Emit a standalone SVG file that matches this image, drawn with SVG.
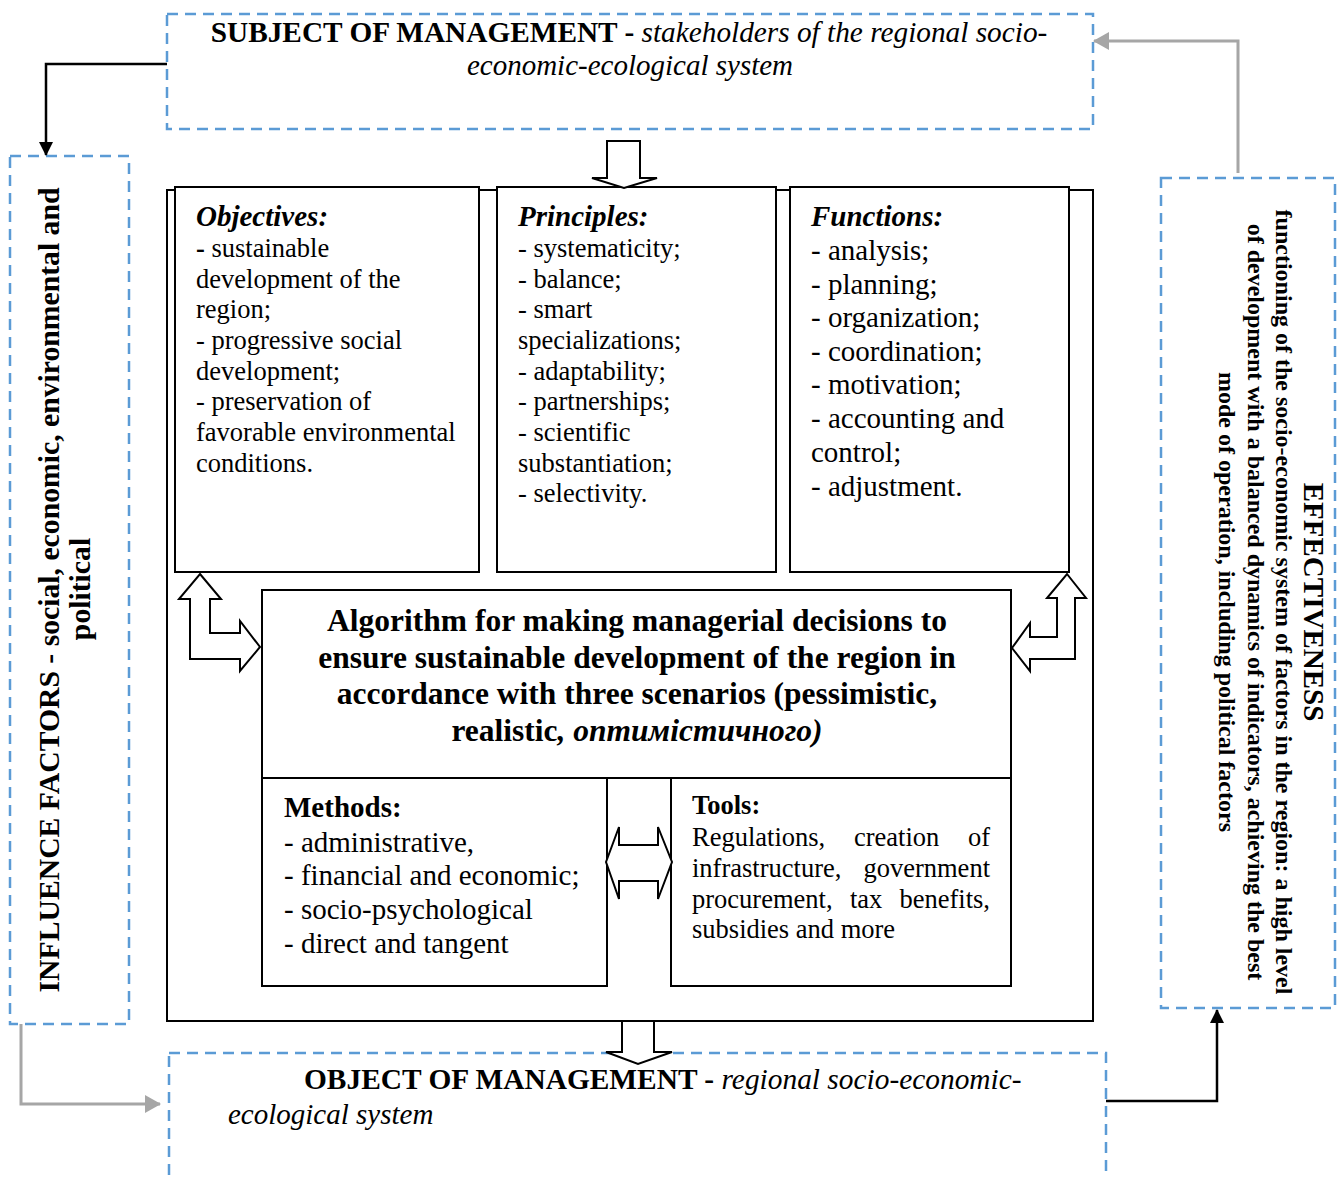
<svg xmlns="http://www.w3.org/2000/svg" width="1344" height="1177" viewBox="0 0 1344 1177">
<style>
text{font-family:"Liberation Serif","Times New Roman",serif;fill:#000}
.dash{fill:none;stroke:#5b9bd5;stroke-width:2.5;stroke-dasharray:11 7}
.box{fill:#fff;stroke:#000;stroke-width:2}
.blk{fill:#fff;stroke:#000;stroke-width:2;stroke-linejoin:miter}
.b{font-weight:bold}
.i{font-style:italic}
.bi{font-weight:bold;font-style:italic}
.t26{font-size:26.5px}
.t29{font-size:29px}
.conK{fill:none;stroke:#000;stroke-width:2.5}
.conG{fill:none;stroke:#a6a6a6;stroke-width:3}
</style>
<defs>
<marker id="ak" markerWidth="14" markerHeight="14" refX="13" refY="7" orient="auto" markerUnits="userSpaceOnUse">
<path d="M0,0 L14,7 L0,14 Z" fill="#000"/>
</marker>
<marker id="ag" markerWidth="16" markerHeight="18" refX="15" refY="9" orient="auto" markerUnits="userSpaceOnUse">
<path d="M0,0 L16,9 L0,18 Z" fill="#a6a6a6"/>
</marker>
</defs>

<g id="subject">
<rect class="dash" x="167" y="14" width="926" height="115"/>
<text style="font-size:29.3px" x="629" y="42" text-anchor="middle"><tspan class="b">SUBJECT OF MANAGEMENT - </tspan><tspan class="i">stakeholders of the regional socio-</tspan></text>
<text class="t29 i" x="630" y="75" text-anchor="middle">economic-ecological system</text>
</g>

<g id="influence">
<rect class="dash" x="10" y="156" width="119" height="868"/>
<text class="b" style="font-size:29.7px" transform="translate(59,590) rotate(-90)" text-anchor="middle">INFLUENCE FACTORS - social, economic, environmental and</text>
<text class="b" style="font-size:29.7px" transform="translate(90,589) rotate(-90)" text-anchor="middle">political</text>
</g>

<g id="effectiveness">
<rect class="dash" x="1161" y="178" width="174" height="830"/>
<text class="b" style="font-size:29px" transform="translate(1304,602) rotate(90)" text-anchor="middle">EFFECTIVENESS</text>
<text class="b" style="font-size:24px" transform="translate(1276,602) rotate(90)" text-anchor="middle">functioning of the socio-economic system of factors in the region: a high level</text>
<text class="b" style="font-size:24px" transform="translate(1248,602) rotate(90)" text-anchor="middle">of development with a balanced dynamics of indicators, achieving the best</text>
<text class="b" style="font-size:24px" transform="translate(1219,602) rotate(90)" text-anchor="middle">mode of operation, including political factors</text>
</g>

<g id="object">
<rect class="dash" x="169" y="1053" width="937" height="150"/>
<text style="font-size:29.4px" x="304" y="1089"><tspan class="b">OBJECT OF MANAGEMENT - </tspan><tspan class="i">regional socio-economic-</tspan></text>
<text class="t29 i" x="228" y="1124">ecological system</text>
</g>

<g id="system">
<rect class="box" x="167" y="190" width="926" height="831"/>
</g>

<g id="objectives">
<rect class="box" x="175" y="187" width="304" height="385"/>
<text class="t29 bi" x="196" y="226">Objectives:</text>
<g class="t26">
<text x="196" y="257"><tspan class="b">-</tspan> sustainable</text>
<text x="196" y="288">development of the</text>
<text x="196" y="318">region;</text>
<text x="196" y="349">- progressive social</text>
<text x="196" y="380">development;</text>
<text x="196" y="410">- preservation of</text>
<text x="196" y="441">favorable environmental</text>
<text x="196" y="472">conditions.</text>
</g>
</g>

<g id="principles">
<rect class="box" x="497" y="187" width="279" height="385"/>
<text class="t29 bi" x="518" y="226">Principles:</text>
<g class="t26">
<text x="518" y="257">- systematicity;</text>
<text x="518" y="288">- balance;</text>
<text x="518" y="318">- smart</text>
<text x="518" y="349">specializations;</text>
<text x="518" y="380">- adaptability;</text>
<text x="518" y="410">- partnerships;</text>
<text x="518" y="441">- scientific</text>
<text x="518" y="472">substantiation;</text>
<text x="518" y="502">- selectivity.</text>
</g>
</g>

<g id="functions">
<rect class="box" x="790" y="187" width="279" height="385"/>
<text class="t29 bi" x="811" y="226">Functions:</text>
<g class="t29">
<text x="811" y="260">- analysis;</text>
<text x="811" y="294">- planning;</text>
<text x="811" y="327">- organization;</text>
<text x="811" y="361">- coordination;</text>
<text x="811" y="394">- motivation;</text>
<text x="811" y="428">- accounting and</text>
<text x="811" y="462">control;</text>
<text x="811" y="496">- adjustment.</text>
</g>
</g>

<g id="algorithm">
<rect class="box" x="262" y="590" width="749" height="188"/>
<g class="b" style="font-size:31.5px" text-anchor="middle">
<text x="637" y="631">Algorithm for making managerial decisions to</text>
<text x="637" y="668">ensure sustainable development of the region in</text>
<text x="637" y="704">accordance with three scenarios (pessimistic,</text>
<text x="637" y="741">realistic<tspan class="bi">, оптимістичного)</tspan></text>
</g>
</g>

<g id="methods">
<rect class="box" x="262" y="778" width="345" height="208"/>
<text class="t29 b" x="284" y="817">Methods:</text>
<g class="t29">
<text x="284" y="852">- administrative,</text>
<text x="284" y="885">- financial and economic;</text>
<text x="284" y="919">- socio-psychological</text>
<text x="284" y="953">- direct and tangent</text>
</g>
</g>

<g id="tools">
<rect class="box" x="671" y="778" width="340" height="208"/>
<text class="t26 b" x="692" y="814">Tools:</text>
<g class="t26">
<text x="692" y="846">Regulations,</text>
<text x="854" y="846">creation</text>
<text x="990" y="846" text-anchor="end">of</text>
<text x="692" y="877">infrastructure,</text>
<text x="990" y="877" text-anchor="end">government</text>
<text x="692" y="908">procurement,</text>
<text x="850" y="908">tax</text>
<text x="990" y="908" text-anchor="end">benefits,</text>
<text x="692" y="938">subsidies and more</text>
</g>
</g>

<g id="connectors">
<polygon class="blk" points="607,141 640,141 640,178 657,178 624,188 592,178 607,178"/>
<polygon class="blk" points="622,1021 654,1021 654,1052 672,1052 638,1064 606,1052 622,1052"/>
<polygon class="blk" points="200,574 221,599 210,599 210,633 240,633 240,621 260,647 240,671 240,659 190,659 190,599 179,599"/>
<polygon class="blk" points="1067,574 1086,598 1075,598 1075,659 1030,659 1030,671 1012,648 1030,623 1030,637 1057,637 1057,598 1047,598"/>
<polygon class="blk" points="606,862 619,827 619,845 658,845 658,827 672,862 658,899 658,881 619,881 619,899"/>
<polyline class="conK" points="167,64 46,64 46,155" marker-end="url(#ak)"/>
<polyline class="conG" points="1238,173 1238,41 1094,41" marker-end="url(#ag)"/>
<polyline class="conG" points="21,1024 21,1104 160,1104" marker-end="url(#ag)"/>
<polyline class="conK" points="1106,1101 1217,1101 1217,1010" marker-end="url(#ak)"/>
</g>
</svg>
